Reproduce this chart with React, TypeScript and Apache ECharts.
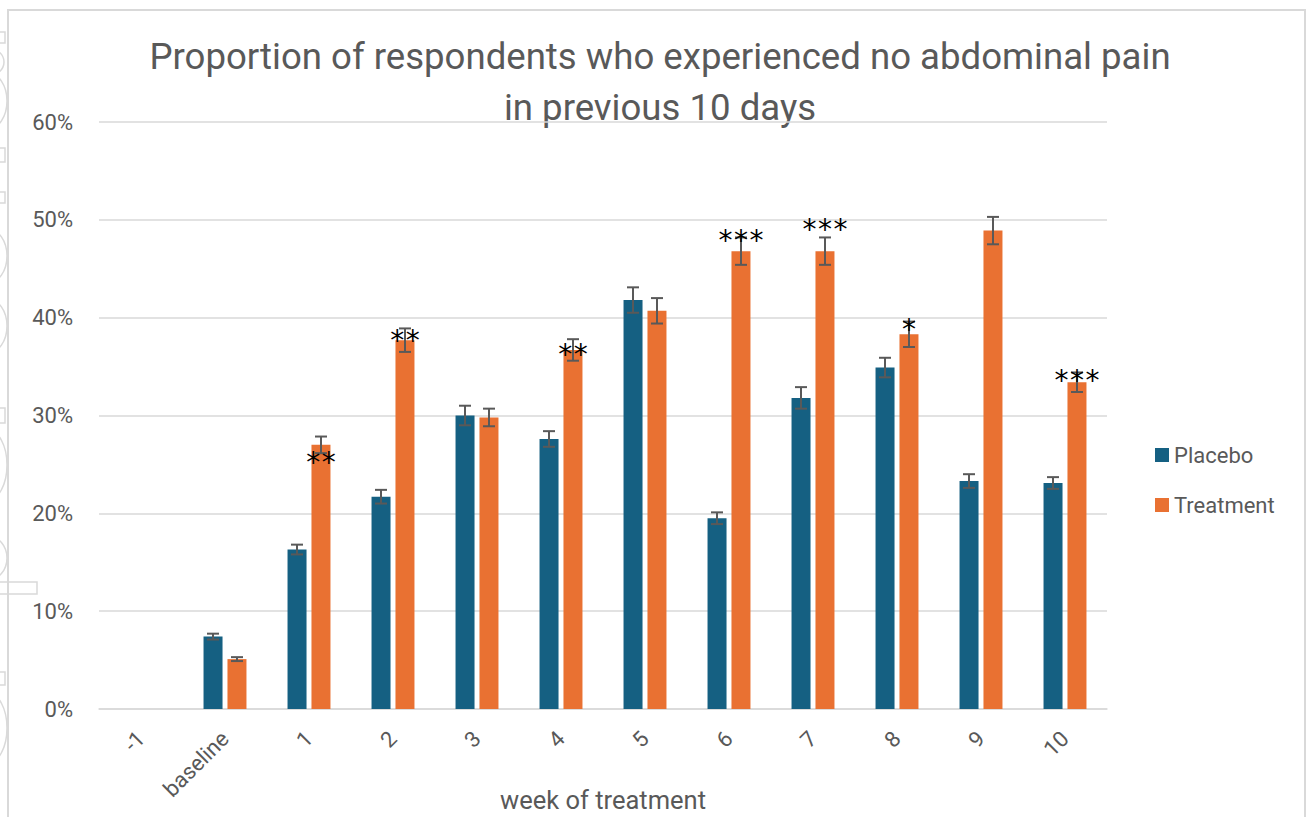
import React, { useEffect, useRef } from "react";
import * as echarts from "echarts";

const categories = ["-1", "baseline", "1", "2", "3", "4", "5", "6", "7", "8", "9", "10"];
const placebo = [null, 7.4, 16.3, 21.7, 30.0, 27.6, 41.8, 19.5, 31.8, 34.9, 23.3, 23.1];
const placeboErr = [null, 0.3, 0.5, 0.7, 1.0, 0.8, 1.3, 0.6, 1.1, 1.0, 0.7, 0.6];
const treatment = [null, 5.1, 27.0, 37.7, 29.8, 36.7, 40.7, 46.8, 46.8, 38.3, 48.9, 33.4];
const treatmentErr = [null, 0.2, 0.85, 1.2, 0.9, 1.1, 1.3, 1.4, 1.4, 1.3, 1.4, 1.0];
const sigLabels = ["", "", "**", "**", "", "**", "", "***", "***", "*", "", "***"];
const sigY = [null, null, 25.9, 38.4, null, 37.0, null, 48.6, 49.7, 39.5, null, 34.3];

const FONT = "Roboto";
const GRAY = "#595959";
const BAR_W = 19;
const OFFSET = 12;

function errData(vals: (number | null)[], errs: (number | null)[]) {
  const out: number[][] = [];
  vals.forEach((v, i) => {
    if (v != null && errs[i] != null) out.push([i, v - (errs[i] as number), v + (errs[i] as number)]);
  });
  return out;
}

const sigData: number[][] = [];
const sigText: string[] = [];
sigY.forEach((y, i) => {
  if (y != null && sigLabels[i]) {
    sigData.push([i, y]);
    sigText.push(sigLabels[i]);
  }
});

function errSeries(name: string, data: number[][], offset: number) {
  return {
    type: "custom",
    name,
    z: 5,
    silent: true,
    encode: { x: 0, y: [1, 2] },
    data,
    renderItem: (params: any, api: any) => {
      const idx = api.value(0);
      const lo = api.coord([idx, api.value(1)]);
      const hi = api.coord([idx, api.value(2)]);
      const cx = lo[0] + offset;
      const st = { stroke: GRAY, lineWidth: 2 };
      const cap = 6;
      return {
        type: "group",
        children: [
          { type: "line", shape: { x1: cx, y1: lo[1], x2: cx, y2: hi[1] }, style: st },
          { type: "line", shape: { x1: cx - cap, y1: lo[1], x2: cx + cap, y2: lo[1] }, style: st },
          { type: "line", shape: { x1: cx - cap, y1: hi[1], x2: cx + cap, y2: hi[1] }, style: st },
        ],
      };
    },
  };
}

const leftArtifacts: any[] = [
  { type: "rect", shape: { x: -2, y: 32, width: 7, height: 11 } },
  { type: "rect", shape: { x: -2, y: 148, width: 7, height: 14 } },
  { type: "rect", shape: { x: -2, y: 192, width: 7, height: 11 } },
  { type: "rect", shape: { x: -2, y: 408, width: 7, height: 15 } },
  { type: "rect", shape: { x: -2, y: 582, width: 39, height: 12 } },
  { type: "rect", shape: { x: -2, y: 672, width: 7, height: 13 } },
  { type: "ellipse", shape: { cx: -12, cy: 101, rx: 19, ry: 28 } },
  { type: "ellipse", shape: { cx: -12, cy: 62, rx: 16, ry: 14 } },
  { type: "ellipse", shape: { cx: -12, cy: 256, rx: 19, ry: 27 } },
  { type: "ellipse", shape: { cx: -12, cy: 326, rx: 19, ry: 27 } },
  { type: "ellipse", shape: { cx: -12, cy: 465, rx: 19, ry: 35 } },
  { type: "ellipse", shape: { cx: -12, cy: 558, rx: 19, ry: 22 } },
  { type: "ellipse", shape: { cx: -12, cy: 728, rx: 19, ry: 35 } },
].map((g) => ({ ...g, silent: true, style: { fill: "none", stroke: "#d9d9d9", lineWidth: 1.5 } }));

export default function App() {
  const ref = useRef<HTMLDivElement>(null);
  useEffect(() => {
    if (!ref.current) return;
    const chart = echarts.init(ref.current, undefined, { renderer: "svg" });
    chart.setOption({
      animation: false,
      backgroundColor: "#ffffff",
      textStyle: { fontFamily: FONT },
      graphic: [
        ...leftArtifacts,
        {
          type: "rect",
          silent: true,
          shape: { x: 8, y: 10, width: 1297, height: 830 },
          style: { fill: "none", stroke: "#d9d9d9", lineWidth: 2 },
        },
        {
          type: "text",
          silent: true,
          x: 660,
          y: 31,
          style: {
            text: "Proportion of respondents who experienced no abdominal pain\nin previous 10 days",
            align: "center",
            verticalAlign: "top",
            lineHeight: 51,
            fontSize: 36.6,
            fontFamily: FONT,
            fill: GRAY,
          },
        },
        {
          type: "text",
          silent: true,
          x: 603,
          y: 800,
          style: {
            text: "week of treatment",
            align: "center",
            verticalAlign: "middle",
            fontSize: 25.5,
            fontFamily: FONT,
            fill: GRAY,
          },
        },
      ],
      legend: {
        orient: "vertical",
        left: 1150,
        top: 438,
        itemWidth: 14,
        itemHeight: 14,
        itemGap: 26,
        icon: "rect",
        data: ["Placebo", "Treatment"],
        textStyle: { fontSize: 22, color: GRAY, fontFamily: FONT, lineHeight: 24 },
      },
      grid: { left: 99, right: 205, top: 122, bottom: 108, containLabel: false, outerBoundsMode: "none" },
      xAxis: {
        type: "category",
        data: categories,
        axisTick: { show: false },
        axisLine: { lineStyle: { color: "#d9d9d9", width: 1.5 } },
        axisLabel: { rotate: 45, fontSize: 22, color: GRAY, margin: 26, interval: 0, fontFamily: FONT },
      },
      yAxis: {
        type: "value",
        min: 0,
        max: 60,
        interval: 10,
        axisLine: { show: false },
        axisTick: { show: false },
        axisLabel: { formatter: "{value}%", fontSize: 22, color: GRAY, margin: 26, fontFamily: FONT },
        splitLine: { lineStyle: { color: "#d9d9d9", width: 1.5 } },
      },
      series: [
        {
          type: "bar",
          name: "Placebo",
          data: placebo,
          barWidth: BAR_W,
          barGap: "26%",
          itemStyle: { color: "#156082" },
        },
        {
          type: "bar",
          name: "Treatment",
          data: treatment,
          barWidth: BAR_W,
          itemStyle: { color: "#e97132" },
        },
        errSeries("placeboErr", errData(placebo, placeboErr), -OFFSET),
        errSeries("treatmentErr", errData(treatment, treatmentErr), OFFSET),
        {
          type: "custom",
          name: "significance",
          z: 6,
          silent: true,
          encode: { x: 0, y: 1 },
          data: sigData,
          renderItem: (params: any, api: any) => {
            const p = api.coord([api.value(0), api.value(1)]);
            const txt = sigText[params.dataIndex] || "";
            const n = txt.length;
            const children: any[] = [];
            for (let k = 0; k < n; k++) {
              children.push({
                type: "text",
                x: p[0] + OFFSET + (k - (n - 1) / 2) * 15.5,
                y: p[1] + 7,
                style: {
                  text: "*",
                  align: "center",
                  verticalAlign: "middle",
                  fontSize: 28,
                  fontFamily: "DejaVu Sans",
                  fill: "#000000",
                },
              });
            }
            return { type: "group", children };
          },
        },
      ],
    });
    return () => chart.dispose();
  }, []);
  return (
    <div
      ref={ref}
      style={{ position: "absolute", left: 0, top: 0, width: 1312, height: 817, background: "#fff" }}
    />
  );
}
